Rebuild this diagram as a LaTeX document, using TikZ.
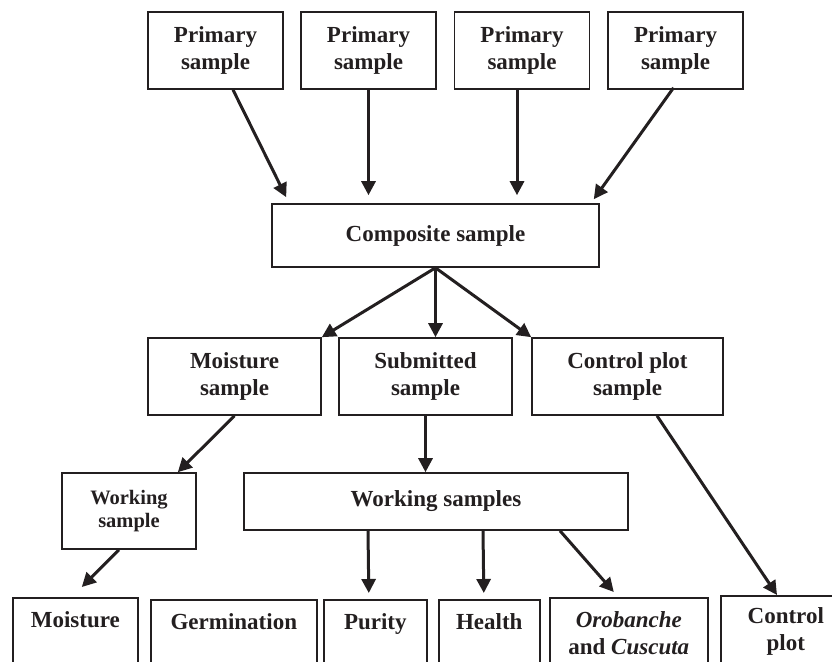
\documentclass[tikz,border=0pt]{standalone}
\usepackage{fontspec}
\setmainfont{Liberation Serif}
\usepackage{tikz}
\usetikzlibrary{arrows.meta}
\usetikzlibrary{positioning}
\definecolor{ink}{HTML}{231F20}

\begin{document}
\begin{tikzpicture}[x=1pt,y=-1pt,ink,
    box/.style={draw,line width=1.6pt,align=center,inner sep=0pt,font=\bfseries\fontsize{23}{27}\selectfont},
    arr/.style={-{Triangle[length=14pt,width=14pt]},line width=3pt},
    cut/.style={draw,line width=1.6pt,anchor=north west,minimum height=120pt,inner sep=0pt},
    txt/.style={anchor=north,align=center,inner sep=0pt,yshift=-14pt,font=\bfseries\fontsize{23}{27}\selectfont}]
    \useasboundingbox (0,0) rectangle (832,661);
    \clip (0,0) rectangle (832,661);

    % primary samples
    \node[box,minimum width=135pt,minimum height=77pt] (p1) at (215.5,50.5) {Primary\\sample};
    \node[box,minimum width=135pt,minimum height=77pt] (p2) at (368.5,50.5) {Primary\\sample};
    \node[box,minimum width=135pt,minimum height=77pt] (p3) at (522,50.5) {Primary\\sample};
    \node[box,minimum width=135pt,minimum height=77pt] (p4) at (675.5,50.5) {Primary\\sample};

    \node[box,minimum width=327pt,minimum height=63pt] (comp) at (435.5,235.5) {Composite sample};

    \node[box,minimum width=173pt,minimum height=77pt] (ms) at (234.5,376.5) {Moisture\\sample};
    \node[box,minimum width=173pt,minimum height=77pt] (sub) at (425.5,376.5) {Submitted\\sample};
    \node[box,minimum width=191pt,minimum height=77pt] (cps) at (627.5,376.5) {Control plot\\sample};

    \node[box,minimum width=134pt,minimum height=76pt,font=\bfseries\fontsize{20.5}{23}\selectfont] (ws) at (129,511) {Working\\sample};
    \node[box,minimum width=384pt,minimum height=57pt] (wss) at (436,501.5) {Working samples};

    % tests (boxes run off the page)
    \node[cut,minimum width=125pt,label={[txt]north:Moisture}] (moi) at (12,597) {};
    \node[cut,minimum width=166pt,label={[txt]north:Germination}] (ger) at (150,599) {};
    \node[cut,minimum width=103pt,label={[txt]north:Purity}] (pur) at (323,599) {};
    \node[cut,minimum width=101pt,label={[txt]north:Health}] (hea) at (438,599) {};
    \node[cut,minimum width=158pt,label={[txt]north:{\textit{Orobanche}\\and \textit{Cuscuta}}}] (oro) at (549,597) {};
    \node[cut,minimum width=130pt,label={[txt,yshift=2pt]north:{Control\\plot}}] (cp) at (720,595) {};

    \draw[arr] ([xshift=17.5pt]p1.south) -- ([xshift=15pt,yshift=6pt]comp.north west);
    \draw[arr,shorten >=8pt] (p2.south) -- (p2.south |- comp.north);
    \draw[arr,shorten >=8pt] ([xshift=-5pt]p3.south) -- ([xshift=-5pt]p3.south |- comp.north);
    \draw[arr] ([xshift=-2pt,yshift=2pt]p4.south) -- ([xshift=-6pt,yshift=4pt]comp.north east);

    \draw[arr] (comp.south) -- (ms.north east);
    \draw[arr] (comp.south) -- (comp.south |- sub.north);
    \draw[arr] (comp.south) -- (cps.north west);

    \draw[arr] (ms.south) -- ([xshift=-19pt]ws.north east);
    \draw[arr] ([xshift=-10pt]ws.south) -- ([xshift=6.5pt,yshift=10pt]moi.north);
    \draw[arr] (sub.south) -- (sub.south |- wss.north);
    \draw[arr] ([xshift=-68pt]wss.south) -- ([xshift=-6.5pt,yshift=6pt]pur.north);
    \draw[arr] ([xshift=47pt]wss.south) -- ([xshift=-5.5pt,yshift=6pt]hea.north);
    \draw[arr] ([xshift=124pt]wss.south) -- ([xshift=-15pt,yshift=5pt]oro.north);
    \draw[arr] ([xshift=29.5pt]cps.south) -- ([xshift=57pt]cp.north west);
\end{tikzpicture}
\end{document}
